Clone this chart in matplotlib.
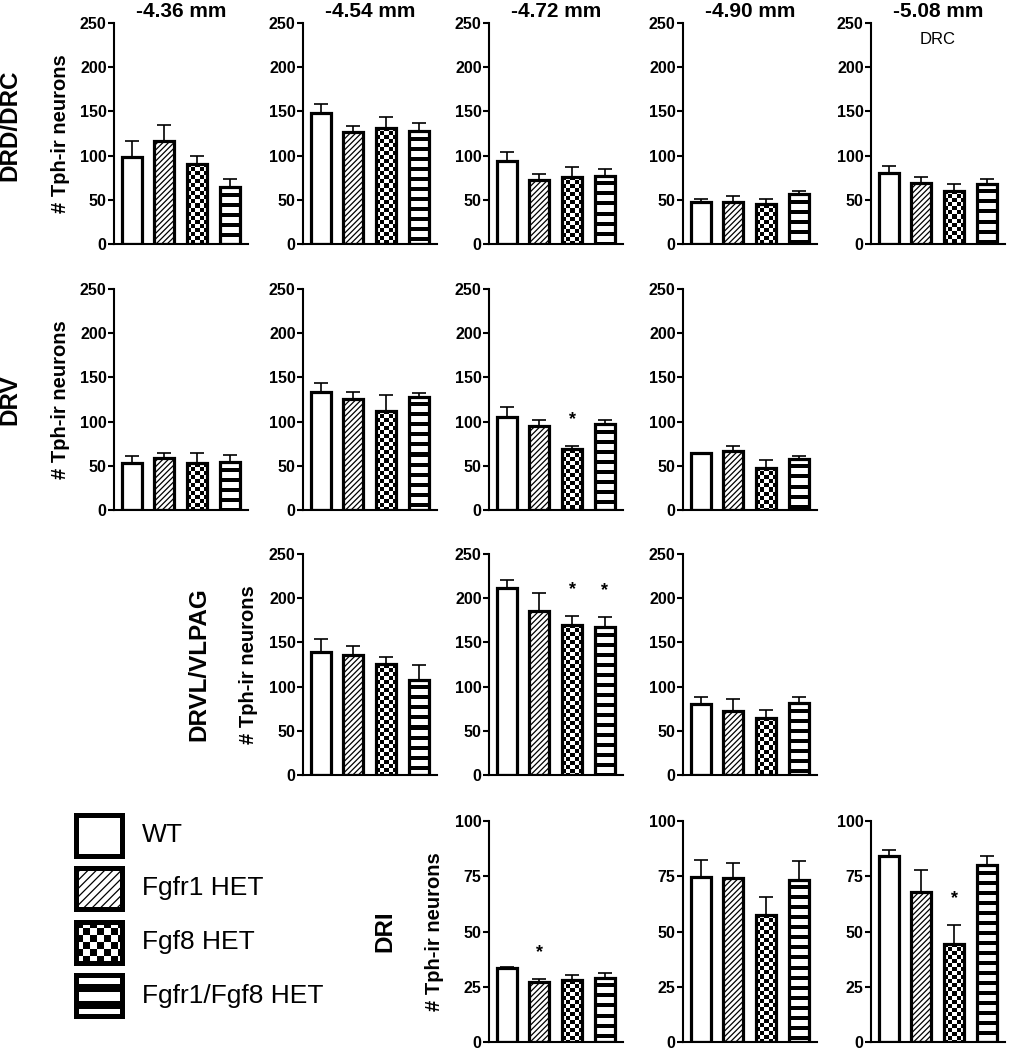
import numpy as np
import matplotlib
matplotlib.use('Agg')
import matplotlib.pyplot as plt
from matplotlib.patches import Rectangle

plt.rcParams['font.family'] = ['Liberation Sans', 'DejaVu Sans']
plt.rcParams['hatch.linewidth'] = 0.9

groups = ['WT', 'Fgfr1 HET', 'Fgf8 HET', 'Fgfr1/Fgf8 HET']
levels = ['-4.36 mm', '-4.54 mm', '-4.72 mm', '-4.90 mm', '-5.08 mm']
regions = ['DRD/DRC', 'DRV', 'DRVL/VLPAG', 'DRI']

# mean / SEM per panel, keyed by column (rostro-caudal level) index
drd_mean = {0: [98, 116, 91, 64], 1: [148.5, 127, 131.5, 127.5], 2: [94, 72.5, 76, 77],
            3: [47.5, 48, 45, 56], 4: [80.5, 69, 60, 68]}
drd_sem = {0: [19, 18.5, 8, 10], 1: [9.5, 7, 12.5, 9.5], 2: [10.5, 7, 11.5, 8],
           3: [3, 6, 6, 4], 4: [8, 7, 7.5, 5]}
drd_star = {}

drv_mean = {0: [53, 59, 53, 54], 1: [133, 126, 112, 128], 2: [105.5, 95, 68.5, 97],
            3: [64, 66.5, 48, 58]}
drv_sem = {0: [8, 6, 11.5, 8], 1: [10.5, 7.5, 18, 4.5], 2: [10.5, 6.5, 4, 5],
           3: [1, 6, 8.5, 3]}
drv_star = {2: [2]}

drvl_mean = {1: [139, 136, 125.5, 107.5], 2: [212, 186, 170, 167], 3: [80.5, 72, 65, 81]}
drvl_sem = {1: [14.5, 10, 8.5, 17], 2: [9, 19.5, 9.5, 11.5], 3: [8, 14, 9, 7]}
drvl_star = {2: [2, 3]}

dri_mean = {2: [33.5, 27, 28, 29], 3: [74.5, 74, 57.5, 73.5], 4: [84, 68, 44.5, 80]}
dri_sem = {2: [0.5, 1.5, 2.5, 2.3], 3: [8, 7, 8, 8.5], 4: [3, 10, 8.5, 4]}
dri_star = {2: [1], 4: [2]}

row_data = [(drd_mean, drd_sem, drd_star, 250, [0, 50, 100, 150, 200, 250]),
            (drv_mean, drv_sem, drv_star, 250, [0, 50, 100, 150, 200, 250]),
            (drvl_mean, drvl_sem, drvl_star, 250, [0, 50, 100, 150, 200, 250]),
            (dri_mean, dri_sem, dri_star, 100, [0, 25, 50, 75, 100])]

W, H = 1009, 1050
fig = plt.figure(figsize=(W / 100, H / 100), dpi=100)

col_left = [114, 303, 489, 683, 871]
row_top = [23, 289, 554, 821]
ax_w, ax_h = 134, 221
bar_w = 0.62


def pattern_fill(ax, patch, kind, period, black=None):
    # pixel-exact checker / stripe fill, clipped to the patch
    bb = patch.get_window_extent()
    nx = max(int(round(bb.width)), 1)
    ny = max(int(round(bb.height)), 1)
    r, c = np.mgrid[0:ny, 0:nx]
    if kind == 'checker':
        img = ((r // period + c // period) % 2).astype(float)
    else:
        img = (((r - period + black) % period) >= black).astype(float)
    inv = ax.transData.inverted()
    x0, ytop = inv.transform((bb.x0, bb.y1))
    x1, ybot = inv.transform((bb.x1, bb.y0))
    im = ax.imshow(img, cmap='gray', vmin=0, vmax=1, origin='upper',
                   extent=(x0, x1, ybot, ytop), interpolation='nearest',
                   aspect='auto', zorder=1.5)
    im.set_clip_path(patch)


x = np.arange(len(groups))
for ri, (means, sems, stars, ymax, ticks) in enumerate(row_data):
    cols = sorted(means.keys())
    for ci in cols:
        left = col_left[ci] / W
        bottom = 1 - (row_top[ri] + ax_h) / H
        ax = fig.add_axes([left, bottom, ax_w / W, ax_h / H])
        ax.set_xlim(-0.54, 3.56)
        ax.set_ylim(0, ymax)
        m = np.array(means[ci])
        s = np.array(sems[ci])
        fills = ax.bar(x, m, width=bar_w, color='white', edgecolor='none', zorder=1)
        pattern_fill(ax, fills[2], 'checker', 4)
        pattern_fill(ax, fills[3], 'stripes', 10, 4)
        ax.errorbar(x, m, yerr=[np.zeros(len(m)), s], fmt='none', ecolor='black',
                    elinewidth=1.2, capsize=4.7, capthick=1.2, zorder=2)
        outl = ax.bar(x, m, width=bar_w, fill=False, edgecolor='black',
                      linewidth=2.3, zorder=3)
        outl[1].set_hatch('//////')
        for k in stars.get(ci, []):
            ax.annotate('*', xy=(k, m[k] + s[k]), xytext=(0, 16), textcoords='offset points',
                        ha='center', va='baseline', fontsize=13, fontweight='bold')
        ax.set_xlim(-0.54, 3.56)
        ax.set_ylim(0, ymax)
        ax.set_xticks([])
        ax.set_yticks(ticks)
        for sp in ['top', 'right']:
            ax.spines[sp].set_visible(False)
        for sp in ['left', 'bottom']:
            ax.spines[sp].set_linewidth(1.5)
        ax.tick_params(axis='y', length=4.3, width=1.5, pad=1, labelsize=11.5)
        for lab in ax.get_yticklabels():
            lab.set_fontweight('bold')
        if ri == 0:
            ax.set_title(levels[ci], fontsize=15, fontweight='bold', pad=4)
            if ci == 4:
                ax.text(0.5, 0.925, 'DRC', transform=ax.transAxes, ha='center',
                        va='center', fontsize=12)
        if ci == cols[0]:
            ax.text(-54 / ax_w, 0.5, '# Tph-ir neurons', transform=ax.transAxes,
                    rotation=90, ha='center', va='center', fontsize=14.5,
                    fontweight='bold')
            ycen = row_top[ri] + ax_h / 2 if ri else 125
            fig.text((col_left[ci] - 104) / W, 1 - ycen / H, regions[ri], rotation=90,
                     ha='center', va='center', fontsize=17.5, fontweight='bold')

# legend drawn in pixel coordinates of the figure
lax = fig.add_axes([0, 0, 1, 1], zorder=-1)
lax.set_xlim(0, W)
lax.set_ylim(H, 0)
lax.axis('off')
box_w, box_h, pitch, top0 = 46, 41, 53.5, 814.5
for i, name in enumerate(groups):
    y0 = top0 + i * pitch
    face = Rectangle((75.5, y0), box_w, box_h, facecolor='white', edgecolor='none', zorder=1)
    lax.add_patch(face)
    if i == 2:
        pattern_fill(lax, face, 'checker', 7)
    elif i == 3:
        pattern_fill(lax, face, 'stripes', 17, 8)
    edge = Rectangle((75.5, y0), box_w, box_h, fill=False, edgecolor='black',
                     linewidth=3.6, zorder=3, hatch='////' if i == 1 else None)
    lax.add_patch(edge)
    lax.text(142, y0 + box_h / 2, name, ha='left', va='center', fontsize=19)

fig.savefig('out.png', dpi=100)
